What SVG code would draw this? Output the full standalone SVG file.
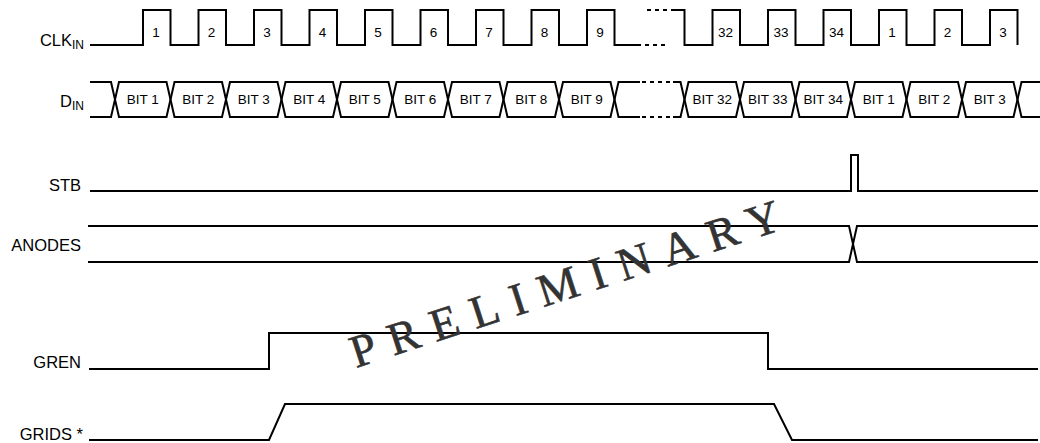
<svg xmlns="http://www.w3.org/2000/svg" width="1040" height="443" viewBox="0 0 1040 443">
<style>
.w{fill:none;stroke:#000;stroke-width:2;stroke-linejoin:miter}
.d{fill:none;stroke:#000;stroke-width:2;stroke-dasharray:4 4}
.lbl{font-family:"Liberation Sans",Arial,sans-serif;font-size:16.5px;fill:#000;text-anchor:end}
.sub{font-size:12px}
.num{font-family:"Liberation Sans",Arial,sans-serif;font-size:13.5px;fill:#000;text-anchor:middle}
.wm{font-family:"Liberation Serif","Times New Roman",serif;font-size:46px;fill:#333;stroke:#333;stroke-width:0.6}
</style>
<rect width="1040" height="443" fill="#fff"/>
<g id="labels">
<text class="lbl" x="84" y="46">CLK<tspan class="sub" dy="3">IN</tspan></text>
<text class="lbl" x="84" y="107">D<tspan class="sub" dy="3">IN</tspan></text>
<text class="lbl" x="81" y="191">STB</text>
<text class="lbl" x="81" y="251">ANODES</text>
<text class="lbl" x="81" y="368">GREN</text>
<text class="lbl" x="83" y="440">GRIDS *</text>
</g>
<g id="connectors">
<g id="clk">
<path class="w" d="M90,45 H143 V10 H170.5 V45 H198.5 V10 H226 V45 H254 V10 H281.5 V45 H309.5 V10 H337 V45 H365 V10 H392.5 V45 H420.5 V10 H448 V45 H476 V10 H503.5 V45 H531.5 V10 H559 V45 H587 V10 H614.5 V45 H641"/>
<path class="d" d="M645,45 H669 M647,10 H671"/>
<path class="w" d="M671,10 H684.5 V45 H712.5 V10 H740 V45 H768 V10 H795.5 V45 H823.5 V10 H851 V45 H879 V10 H906.5 V45 H934.5 V10 H962 V45 H990 V10 H1017.5 V45"/>
</g>
<g id="din">
<path class="w" d="M90,82 H111 L119,117 H166.5 L174.5,82 H222 L230,117 H277.5 L285.5,82 H333 L341,117 H388.5 L396.5,82 H444 L452,117 H499.5 L507.5,82 H555 L563,117 H610.5 L618.5,82 H640"/>
<path class="w" d="M90,117 H111 L119,82 H166.5 L174.5,117 H222 L230,82 H277.5 L285.5,117 H333 L341,82 H388.5 L396.5,117 H444 L452,82 H499.5 L507.5,117 H555 L563,82 H610.5 L618.5,117 H640"/>
<path class="d" d="M642,82 H672 M642,117 H672"/>
<path class="w" d="M673,82 H680.5 L688.5,117 H736 L744,82 H791.5 L799.5,117 H847 L855,82 H902.5 L910.5,117 H958 L966,82 H1013.5 L1021.5,117 H1040"/>
<path class="w" d="M673,117 H680.5 L688.5,82 H736 L744,117 H791.5 L799.5,82 H847 L855,117 H902.5 L910.5,82 H958 L966,117 H1013.5 L1021.5,82 H1040"/>
</g>
<g id="stb"><path class="w" d="M90,191 H851 V155 H858 V191 H1038"/></g>
<g id="anodes">
<path class="w" d="M88,226 H849 L857,262 H1038"/>
<path class="w" d="M88,262 H849 L857,226 H1038"/>
</g>
<g id="gren"><path class="w" d="M89,369 H269 V333 H768 V369 H1038"/></g>
<g id="grids"><path class="w" d="M89,440 H269 L285,404 H774 L792,440 H1038"/></g>
</g>
<g id="clk-numbers">
<text class="num" x="156" y="37">1</text>
<text class="num" x="211.5" y="37">2</text>
<text class="num" x="267" y="37">3</text>
<text class="num" x="322.5" y="37">4</text>
<text class="num" x="378" y="37">5</text>
<text class="num" x="433.5" y="37">6</text>
<text class="num" x="489" y="37">7</text>
<text class="num" x="544.5" y="37">8</text>
<text class="num" x="600" y="37">9</text>
<text class="num" x="725.5" y="37">32</text>
<text class="num" x="781" y="37">33</text>
<text class="num" x="836.5" y="37">34</text>
<text class="num" x="892" y="37">1</text>
<text class="num" x="947.5" y="37">2</text>
<text class="num" x="1003" y="37">3</text>
</g>
<g id="din-bits">
<text class="num" x="142.75" y="104">BIT 1</text>
<text class="num" x="198.25" y="104">BIT 2</text>
<text class="num" x="253.75" y="104">BIT 3</text>
<text class="num" x="309.25" y="104">BIT 4</text>
<text class="num" x="364.75" y="104">BIT 5</text>
<text class="num" x="420.25" y="104">BIT 6</text>
<text class="num" x="475.75" y="104">BIT 7</text>
<text class="num" x="531.25" y="104">BIT 8</text>
<text class="num" x="586.75" y="104">BIT 9</text>
<text class="num" x="712.25" y="104">BIT 32</text>
<text class="num" x="767.75" y="104">BIT 33</text>
<text class="num" x="823.25" y="104">BIT 34</text>
<text class="num" x="878.75" y="104">BIT 1</text>
<text class="num" x="934.25" y="104">BIT 2</text>
<text class="num" x="989.75" y="104">BIT 3</text>
</g>
<g id="watermark">
<text class="wm" x="356" y="368" transform="rotate(-18 356 368)" textLength="450" lengthAdjust="spacing">PRELIMINARY</text>
</g>
</svg>
